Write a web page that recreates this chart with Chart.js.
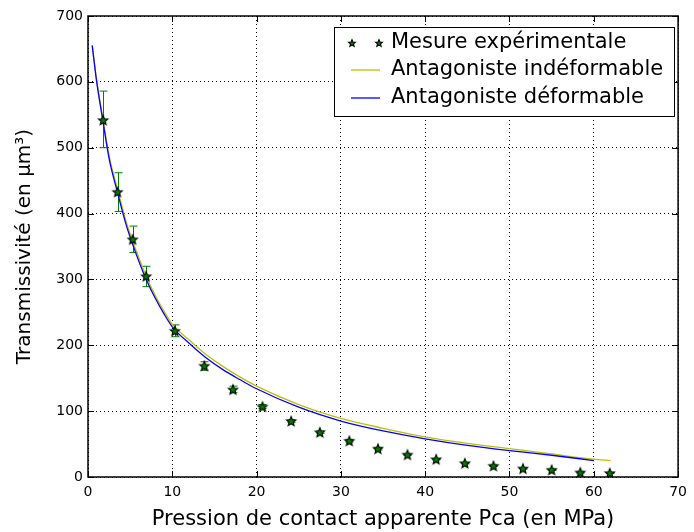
<!DOCTYPE html>
<html>
<head>
<meta charset="utf-8">
<script src="https://cdn.jsdelivr.net/npm/chart.js@4.4.0/dist/chart.umd.min.js"></script>
<style>
  html, body { margin: 0; padding: 0; background: #fff; }
  #cadre { width: 694px; height: 532px; }
</style>
</head>
<body>
<div id="cadre"><canvas id="transmissivite"></canvas></div>
<script>
// Mesures expérimentales (avec barres d'erreur)
const pression = [1.8, 3.5, 5.3, 6.9, 10.3, 13.8, 17.2, 20.7, 24.1, 27.5, 31.0, 34.4, 37.9, 41.3, 44.7, 48.1, 51.6, 55.0, 58.4, 61.9];
const mesure = [542, 433, 361, 305, 222, 169, 133, 107, 85, 68, 55, 43, 34, 27, 21, 17, 13, 11, 7, 6];
const erreurHaut = [586, 462, 381, 320, 231, 175, 138, 110, 87, 70, 57, 45, 35, 28, 22, 18, 14, 12, 8, 7];
const erreurBas = [500, 403, 341, 289, 213, 162, 128, 104, 83, 66, 53, 41, 33, 26, 20, 16, 12, 10, 6, 5];

// Antagoniste indéformable
const xIndef = [0.5, 1, 1.75, 2.5, 3.5, 4.5, 5.5, 6.8, 8, 9, 10, 12, 14, 16, 18, 20, 25, 30, 35, 40, 45, 50, 55, 60, 62];
const yIndef = [656, 605, 545, 488, 437, 389, 351, 308, 275, 252, 232, 208, 186, 168, 152, 138, 110, 89, 74, 61, 51, 43, 35, 27, 25];

// Antagoniste déformable
const xDef = [0.5, 1, 1.75, 2.5, 3.5, 4.5, 5.5, 6.8, 8, 9, 10, 12, 14, 16, 18, 20, 25, 30, 35, 40, 45, 50, 55, 60];
const yDef = [655, 603, 542, 484, 432, 384, 346, 303, 271, 248, 228, 203, 181, 163, 148, 134, 106, 85, 70, 58, 48, 40, 33, 25];

// Graduations
const ticksX = [0, 10, 20, 30, 40, 50, 60, 70];
const ticksY = [0, 100, 200, 300, 400, 500, 600, 700];

const libelles = ['Mesure expérimentale', 'Antagoniste indéformable', 'Antagoniste déformable'];
const police = 'DejaVu Sans';

// étoile verte bordée de noir
function etoile(r) {
  const c = document.createElement('canvas');
  const s = Math.ceil(r * 2 + 4);
  c.width = c.height = s;
  const g = c.getContext('2d');
  g.translate(s / 2, s / 2 + r * 0.1);
  g.beginPath();
  for (let i = 0; i < 10; i++) {
    const rr = i % 2 ? r * 0.45 : r;
    const a = -Math.PI / 2 + i * Math.PI / 5;
    g.lineTo(rr * Math.cos(a), rr * Math.sin(a));
  }
  g.closePath();
  g.fillStyle = '#008000';
  g.fill();
  g.strokeStyle = '#000';
  g.lineWidth = 1.1;
  g.stroke();
  return c;
}
const grandeEtoile = etoile(5);
const petiteEtoile = etoile(3.6);

const points = (xs, ys) => xs.map((x, i) => ({ x: x, y: ys[i] }));

// barres d'erreur, cadre, graduations intérieures et légende
const decor = {
  id: 'decor',
  beforeDatasetsDraw(chart) {
    const ctx = chart.ctx, sx = chart.scales.x, sy = chart.scales.y;
    ctx.save();
    ctx.strokeStyle = '#008000';
    ctx.lineWidth = 1;
    pression.forEach((p, i) => {
      const px = Math.round(sx.getPixelForValue(p)) + 0.5;
      const h = sy.getPixelForValue(erreurHaut[i]);
      const b = sy.getPixelForValue(erreurBas[i]);
      ctx.beginPath();
      ctx.moveTo(px, h); ctx.lineTo(px, b);
      ctx.moveTo(px - 4, h); ctx.lineTo(px + 4, h);
      ctx.moveTo(px - 4, b); ctx.lineTo(px + 4, b);
      ctx.stroke();
    });
    ctx.restore();
  },
  afterDraw(chart) {
    const ctx = chart.ctx, a = chart.chartArea, sx = chart.scales.x, sy = chart.scales.y;
    ctx.save();
    ctx.strokeStyle = '#000';
    ctx.lineWidth = 1.5;
    ctx.strokeRect(a.left, a.top, a.right - a.left, a.bottom - a.top);
    ctx.lineWidth = 1;
    ctx.beginPath();
    ticksX.forEach(t => {
      const px = Math.round(sx.getPixelForValue(t)) + 0.5;
      ctx.moveTo(px, a.bottom); ctx.lineTo(px, a.bottom - 6);
      ctx.moveTo(px, a.top); ctx.lineTo(px, a.top + 6);
    });
    ticksY.forEach(t => {
      const py = Math.round(sy.getPixelForValue(t)) + 0.5;
      ctx.moveTo(a.left, py); ctx.lineTo(a.left + 6, py);
      ctx.moveTo(a.right, py); ctx.lineTo(a.right - 6, py);
    });
    ctx.stroke();

    // légende
    const lx = 334, ly = 27, lw = 340, lh = 89;
    ctx.fillStyle = '#fff';
    ctx.fillRect(lx, ly, lw, lh);
    ctx.strokeStyle = '#000';
    ctx.lineWidth = 1;
    ctx.strokeRect(lx + 0.5, ly + 0.5, lw, lh);
    const rangs = [43, 70, 98];
    ctx.drawImage(petiteEtoile, 352 - petiteEtoile.width / 2, rangs[0] - petiteEtoile.height / 2);
    ctx.drawImage(petiteEtoile, 379 - petiteEtoile.width / 2, rangs[0] - petiteEtoile.height / 2);
    ctx.lineWidth = 1.3;
    ctx.strokeStyle = '#bfbf00';
    ctx.beginPath(); ctx.moveTo(351, rangs[1]); ctx.lineTo(380, rangs[1]); ctx.stroke();
    ctx.strokeStyle = '#0000ff';
    ctx.beginPath(); ctx.moveTo(351, rangs[2]); ctx.lineTo(380, rangs[2]); ctx.stroke();
    ctx.fillStyle = '#000';
    ctx.font = '21px "' + police + '"';
    ctx.textBaseline = 'middle';
    libelles.forEach((t, i) => ctx.fillText(t, 391, rangs[i]));
    ctx.restore();
  }
};

const ctx = document.getElementById('transmissivite').getContext('2d');
new Chart(ctx, {
  type: 'scatter',
  data: {
    datasets: [{
      label: libelles[0],
      data: points(pression, mesure),
      pointStyle: grandeEtoile,
      pointRadius: 5,
      order: 0
    }, {
      label: libelles[1],
      data: points(xIndef, yIndef),
      showLine: true,
      borderColor: '#bfbf00',
      borderWidth: 1.3,
      pointRadius: 0,
      cubicInterpolationMode: 'monotone',
      order: 2
    }, {
      label: libelles[2],
      data: points(xDef, yDef),
      showLine: true,
      borderColor: '#0000ff',
      borderWidth: 1.3,
      pointRadius: 0,
      cubicInterpolationMode: 'monotone',
      order: 1
    }]
  },
  options: {
    responsive: true,
    maintainAspectRatio: false,
    animation: false,
    layout: { padding: { top: 16, right: 11, left: 0, bottom: 0 } },
    plugins: {
      legend: { display: false },
      tooltip: { enabled: false }
    },
    scales: {
      x: {
        min: ticksX[0],
        max: ticksX[ticksX.length - 1],
        ticks: { stepSize: 10, color: '#000', padding: 7, font: { family: police, size: 14 } },
        grid: { color: '#000', lineWidth: 1, drawTicks: false },
        border: { display: false, dash: [1, 3] },
        title: {
          display: true,
          text: 'Pression de contact apparente Pca (en MPa)',
          color: '#000',
          font: { family: police, size: 21 },
          padding: { top: 0, bottom: 0 }
        },
        afterFit(s) { s.height = 55; }
      },
      y: {
        min: ticksY[0],
        max: ticksY[ticksY.length - 1],
        ticks: { stepSize: 100, color: '#000', padding: 5, font: { family: police, size: 14 } },
        grid: { color: '#000', lineWidth: 1, drawTicks: false },
        border: { display: false, dash: [1, 3] },
        title: {
          display: true,
          text: 'Transmissivité (en µm³)',
          color: '#000',
          font: { family: police, size: 20 },
          padding: { top: 13, bottom: 0 }
        },
        afterFit(s) { s.width = 88; }
      }
    }
  },
  plugins: [decor]
});
</script>
</body>
</html>
